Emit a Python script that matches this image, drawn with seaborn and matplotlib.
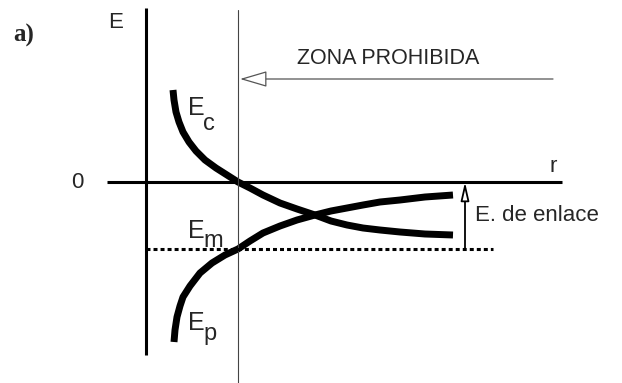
import numpy as np
import pandas as pd
import seaborn as sns
import matplotlib.pyplot as plt

# diagram units: r to the right of the E axis, E upward from the r axis
ec_r = [27, 28, 30, 33, 37, 43, 50, 59, 70, 81, 92, 104, 117, 134, 151, 169,
        185, 201, 217, 234, 254, 279, 307]
ec_E = [92, 82, 70, 60, 50, 40, 31, 22, 14, 7, 0, -6, -13, -21, -27, -33,
        -39, -43, -46, -48, -50, -52, -53]
ep_r = [28, 29, 31, 34, 37, 44, 54, 66, 79, 92, 104, 117, 134, 151, 169,
        185, 201, 217, 234, 254, 279, 307]
ep_E = [-160, -148, -135, -124, -115, -104, -91, -81, -73, -67, -59, -51, -44,
        -38, -33, -29, -26, -23, -20, -18, -15, -13]
r_contact = 92          # zona prohibida boundary
E_min = -67             # minimum energy (Em)
r_bond = 319            # where the bond energy arrow is drawn

sns.set_theme(style="white")
plt.rcParams["font.family"] = ["Liberation Sans", "DejaVu Sans"]

fig = plt.figure(figsize=(6.22, 3.83), dpi=100)
ax = fig.add_axes([0, 0, 1, 1])
ax.set_xlim(-146, 476)
ax.set_ylim(-201, 182)
ax.axis("off")

df = pd.concat([
    pd.DataFrame({"r": ec_r, "E": ec_E, "curva": "Ec"}),
    pd.DataFrame({"r": ep_r, "E": ep_E, "curva": "Ep"}),
])
sns.lineplot(data=df, x="r", y="E", units="curva", estimator=None, sort=False,
             color="black", lw=5, solid_capstyle="butt", ax=ax, legend=False)

# axes
ax.plot([0, 0], [174, -173], color="black", lw=2.2, solid_capstyle="butt")
ax.plot([-39, 416], [0, 0], color="black", lw=2.2, solid_capstyle="butt")
# zona prohibida line
ax.plot([r_contact, r_contact], [172, -201], color="#444444", lw=0.8)
# Em dotted line
ax.plot([0, 347], [E_min, E_min], color="black", lw=2.2, ls=(0, (1.3, 1.0)))

# arrows
ax.annotate("", xy=(94, 103), xytext=(407, 103),
            arrowprops=dict(arrowstyle="-|>,head_length=1.7,head_width=0.5",
                            fc="white", ec="#555555", lw=0.9, mutation_scale=10,
                            shrinkA=0, shrinkB=0))
ax.annotate("", xy=(r_bond, 0), xytext=(r_bond, E_min),
            arrowprops=dict(arrowstyle="-|>,head_length=1.1,head_width=0.25",
                            fc="white", ec="black", lw=1.3, mutation_scale=10,
                            shrinkA=0, shrinkB=0))

# texts
fs = 16
ax.text(-122, 147, "a)", fontsize=18, fontweight="bold",
        family=["Liberation Serif", "DejaVu Serif"], ha="center", va="center")
ax.text(-30, 160, "E", fontsize=fs, ha="center", va="center")
ax.text(-69, 0, "0", fontsize=fs, ha="center", va="center")
ax.text(407, 16, "r", fontsize=fs, ha="center", va="center")
ax.text(151, 124, "ZONA PROHIBIDA", fontsize=15.5, ha="left", va="center")
ax.text(329, -33, "E. de enlace", fontsize=fs, ha="left", va="center")

for Ex, Ey, sx, sy, sub in [(42, 67, 57, 52, "c"),
                            (42, -56, 57, -65, "m"),
                            (42, -148, 57, -158, "p")]:
    ax.text(Ex, Ey, "E", fontsize=18, ha="left", va="baseline")
    ax.text(sx, sy, sub, fontsize=17, ha="left", va="baseline")

fig.savefig("out.png", dpi=100)
